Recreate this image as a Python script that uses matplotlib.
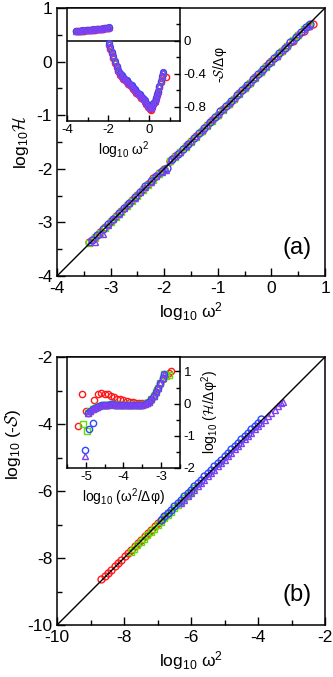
import matplotlib
matplotlib.use("Agg")
import matplotlib.pyplot as plt
from matplotlib.ticker import MultipleLocator, FixedLocator

plt.rcParams['font.family'] = ['Liberation Sans', 'DejaVu Sans']
plt.rcParams['mathtext.fontset'] = 'custom'
plt.rcParams['mathtext.rm'] = 'Liberation Sans'
plt.rcParams['mathtext.it'] = 'Liberation Sans:italic'
plt.rcParams['mathtext.cal'] = 'cmsy10'
plt.rcParams['axes.unicode_minus'] = False

# ---------------- data: panel (a) main ----------------
a_red_x = [-3.40,-3.30,-3.20,-3.10,-3.00,-2.90,-2.80,-2.70,-2.60,-2.50,-2.40,-2.30,-2.20,-2.10,-2.00,-1.90,-1.80,-1.70,-1.60,-1.50,-1.40,-1.30,-1.20,-1.10,-1.00,-0.90,-0.80,-0.70,-0.60,-0.50,-0.40,-0.30,-0.20,-0.10,0.00,0.10,0.20,0.30,0.40,0.50,0.60,0.70,0.77]
a_red_y = [-3.37,-3.28,-3.18,-3.08,-2.98,-2.88,-2.78,-2.68,-2.58,-2.48,-2.38,-2.28,-2.18,-2.08,-2.01,-1.86,-1.77,-1.68,-1.58,-1.48,-1.38,-1.29,-1.19,-1.09,-0.99,-0.89,-0.79,-0.69,-0.59,-0.49,-0.39,-0.29,-0.19,-0.09,0.01,0.10,0.20,0.29,0.39,0.49,0.58,0.67,0.71]
a_green_x = [-3.40,-3.30,-3.20,-3.10,-3.00,-2.90,-2.80,-2.70,-2.60,-2.50,-2.40,-2.30,-2.20,-2.10,-2.00,-1.90,-1.80,-1.70,-1.60,-1.50,-1.40,-1.30,-1.20,-1.10,-1.00,-0.90,-0.80,-0.70,-0.60,-0.50,-0.40,-0.30,-0.20,-0.10,0.00,0.10,0.20,0.30,0.40,0.50,0.60,0.70]
a_green_y = [-3.39,-3.29,-3.20,-3.10,-3.00,-2.90,-2.80,-2.70,-2.60,-2.50,-2.40,-2.30,-2.20,-2.10,-2.03,-1.85,-1.78,-1.69,-1.60,-1.50,-1.40,-1.30,-1.20,-1.10,-1.00,-0.90,-0.80,-0.70,-0.60,-0.50,-0.40,-0.30,-0.20,-0.10,0.00,0.10,0.20,0.30,0.40,0.50,0.60,0.69]
a_blue_x = [-3.35,-3.25,-3.15,-3.05,-2.95,-2.85,-2.75,-2.65,-2.55,-2.45,-2.35,-2.25,-2.15,-2.05,-1.95,-1.85,-1.75,-1.65,-1.55,-1.45,-1.35,-1.25,-1.15,-1.05,-0.95,-0.85,-0.75,-0.65,-0.55,-0.45,-0.35,-0.25,-0.15,-0.05,0.05,0.15,0.25,0.35,0.45,0.55,0.65,0.72]
a_blue_y = [-3.33,-3.23,-3.13,-3.03,-2.93,-2.83,-2.73,-2.63,-2.53,-2.43,-2.33,-2.23,-2.13,-2.04,-1.99,-1.82,-1.73,-1.63,-1.53,-1.43,-1.33,-1.23,-1.13,-1.03,-0.93,-0.83,-0.73,-0.63,-0.53,-0.43,-0.33,-0.23,-0.13,-0.03,0.06,0.16,0.26,0.36,0.46,0.56,0.65,0.70]
a_violet_x = [-3.38,-3.30,-3.22,-3.14,-3.05,-2.95,-2.85,-2.75,-2.65,-2.55,-2.45,-2.35,-2.25,-2.15,-2.05,-1.97,-1.90,-1.80,-1.70,-1.60,-1.50,-1.40,-1.30,-1.20,-1.10,-1.00,-0.90,-0.80,-0.70,-0.60,-0.50,-0.40,-0.30,-0.20,-0.10,0.00,0.10,0.20,0.30,0.40,0.50,0.60,0.70]
a_violet_y = [-3.37,-3.36,-3.22,-3.21,-3.04,-2.94,-2.84,-2.74,-2.64,-2.54,-2.44,-2.34,-2.24,-2.14,-2.06,-2.03,-1.84,-1.77,-1.68,-1.58,-1.48,-1.38,-1.28,-1.18,-1.08,-0.98,-0.88,-0.78,-0.68,-0.58,-0.48,-0.38,-0.28,-0.18,-0.08,0.01,0.11,0.21,0.31,0.41,0.51,0.60,0.67]

# ---------------- data: panel (a) inset ----------------
ia_x = [-3.55,-3.45,-3.35,-3.25,-3.15,-3.05,-2.95,-2.85,-2.75,-2.65,-2.55,-2.45,-2.35,-2.25,-2.15,-2.05,-1.95,
        -1.98,-1.90,-1.82,-1.74,-1.66,-1.58,-1.50,-1.42,-1.34,-1.26,-1.18,-1.10,-1.02,-0.94,-0.86,-0.78,-0.70,
        -0.62,-0.54,-0.46,-0.38,-0.30,-0.22,-0.14,-0.06,0.02,0.08,0.14,0.20,0.26,0.32,0.38,0.44,0.50,0.56,0.62,0.68]
ia_y = [0.120,0.122,0.125,0.127,0.130,0.132,0.135,0.137,0.140,0.142,0.145,0.148,0.150,0.153,0.156,0.160,0.163,
        -0.03,-0.08,-0.13,-0.19,-0.25,-0.30,-0.35,-0.39,-0.42,-0.44,-0.46,-0.48,-0.50,-0.52,-0.54,-0.56,-0.59,
        -0.61,-0.63,-0.65,-0.67,-0.69,-0.72,-0.75,-0.78,-0.81,-0.82,-0.79,-0.76,-0.73,-0.69,-0.65,-0.61,-0.55,-0.49,-0.43,-0.38]
ia_red_x = [-3.55,-3.45,-3.35,-3.25,-3.15,-3.05,-2.95,-2.85,-2.75,-2.65,-2.55,-2.45,-2.35,-2.25,-2.15,-2.05,-1.95,
            -1.98,-1.90,-1.82,-1.74,-1.66,-1.58,-1.50,-1.42,-1.34,-1.26,-1.18,-1.10,-1.02,-0.94,-0.86,-0.78,-0.70,
            -0.62,-0.54,-0.46,-0.38,-0.30,-0.22,-0.14,-0.06,0.02,0.08,0.14,0.20,0.26,0.32,0.38,0.44,0.50,0.56,0.62,0.68,0.81]
ia_red_y = [0.115,0.117,0.120,0.122,0.125,0.127,0.130,0.132,0.135,0.137,0.140,0.143,0.145,0.148,0.151,0.155,0.158,
            -0.05,-0.10,-0.15,-0.21,-0.27,-0.32,-0.37,-0.41,-0.44,-0.46,-0.48,-0.50,-0.52,-0.54,-0.56,-0.58,-0.61,
            -0.63,-0.65,-0.67,-0.69,-0.71,-0.74,-0.77,-0.80,-0.83,-0.84,-0.80,-0.77,-0.74,-0.70,-0.66,-0.62,-0.56,-0.50,-0.45,-0.40,-0.44]

# ---------------- data: panel (b) main ----------------
b_red_x = [-8.68,-8.58,-8.48,-8.38,-8.28,-8.18,-8.08,-7.98,-7.88,-7.78,-7.68,-7.58,-7.48,-7.38,-7.28,-7.18,-7.08,-6.98,-6.88,-6.78,-6.68]
b_red_y = [-8.64,-8.55,-8.45,-8.35,-8.25,-8.15,-8.05,-7.95,-7.85,-7.75,-7.65,-7.55,-7.45,-7.35,-7.25,-7.15,-7.05,-6.95,-6.85,-6.75,-6.65]
b_green_x = [-7.80,-7.70,-7.60,-7.50,-7.40,-7.30,-7.20,-7.10,-7.00,-6.90,-6.80,-6.70,-6.60,-6.50,-6.40,-6.30,-6.20,-6.10,-6.00,-5.90]
b_green_y = [-7.82,-7.72,-7.62,-7.52,-7.42,-7.32,-7.22,-7.12,-7.02,-6.92,-6.82,-6.72,-6.62,-6.52,-6.42,-6.32,-6.22,-6.12,-6.02,-5.92]
b_blue_x = [-6.90,-6.80,-6.70,-6.60,-6.50,-6.40,-6.30,-6.20,-6.10,-6.00,-5.90,-5.80,-5.70,-5.60,-5.50,-5.40,-5.30,-5.20,-5.10,-5.00,-4.90,-4.80,-4.70,-4.60,-4.50,-4.40,-4.30,-4.20,-4.10,-4.00,-3.90]
b_blue_y = [-6.86,-6.76,-6.66,-6.56,-6.46,-6.36,-6.26,-6.16,-6.06,-5.96,-5.86,-5.76,-5.66,-5.56,-5.46,-5.36,-5.26,-5.16,-5.06,-4.96,-4.86,-4.76,-4.66,-4.56,-4.46,-4.36,-4.26,-4.16,-4.06,-3.96,-3.86]
b_violet_x = [-6.30,-6.20,-6.10,-6.00,-5.90,-5.80,-5.70,-5.60,-5.50,-5.40,-5.30,-5.20,-5.10,-5.00,-4.90,-4.80,-4.70,-4.60,-4.50,-4.40,-4.30,-4.20,-4.10,-4.00,-3.90,-3.80,-3.70,-3.60,-3.50,-3.40,-3.30,-3.25]
b_violet_y = [-6.36,-6.26,-6.16,-6.06,-5.96,-5.86,-5.76,-5.66,-5.56,-5.46,-5.36,-5.26,-5.16,-5.06,-4.96,-4.86,-4.76,-4.66,-4.56,-4.46,-4.36,-4.26,-4.16,-4.06,-3.96,-3.87,-3.77,-3.67,-3.57,-3.47,-3.38,-3.34]

# ---------------- data: panel (b) inset ----------------
ib_red_x = [-5.20,-5.09,-5.00,-4.79,-4.68,-4.59,-4.50,-4.41,-4.32,-4.24,-4.16,-4.08,-4.00,-3.92,-3.84,-3.76,-3.68,-3.60,-3.52,-3.44,-3.36,-3.28,-3.20,-3.12,-3.04,-2.96,-2.88,-2.80,-2.74]
ib_red_y = [-0.71,0.29,-0.23,0.10,0.31,0.33,0.31,0.29,0.24,0.20,0.16,0.13,0.10,0.08,0.06,0.04,0.03,0.02,0.02,0.02,0.04,0.12,0.26,0.44,0.62,0.78,0.90,0.96,1.00]
ib_curve_x = [-4.94,-4.88,-4.82,-4.76,-4.70,-4.64,-4.58,-4.52,-4.46,-4.40,-4.34,-4.28,-4.22,-4.16,-4.10,-4.04,-3.98,-3.92,-3.86,-3.80,-3.74,-3.68,-3.62,-3.56,-3.50,-3.44,-3.38,-3.32,-3.26,-3.20,-3.14,-3.08,-3.02,-2.96,-2.92]
ib_curve_y = [-0.29,-0.23,-0.17,-0.12,-0.09,-0.07,-0.05,-0.04,-0.03,-0.03,-0.02,-0.02,-0.03,-0.03,-0.04,-0.04,-0.05,-0.05,-0.05,-0.05,-0.05,-0.05,-0.05,-0.04,-0.03,-0.01,0.02,0.06,0.14,0.24,0.36,0.50,0.64,0.80,0.92]
ib_green_x = [-5.07,-4.96] + ib_curve_x + [-2.86,-2.79]
ib_green_y = [-0.63,-0.85] + ib_curve_y + [0.86,0.90]
ib_blue_x = [-5.03,-4.92,-4.82] + ib_curve_x
ib_blue_y = [-1.43,-0.80,-0.59] + ib_curve_y
ib_violet_x = [-5.03] + ib_curve_x
ib_violet_y = [-1.62] + ib_curve_y

RED = '#ff1a1a'
GREEN = '#5fe000'
BLUE = '#2c48ff'
VIOLET = '#8040f0'

fig = plt.figure(figsize=(3.33, 6.77), dpi=100)

def style_main(ax):
    for s in ax.spines.values():
        s.set_linewidth(1.1)
    ax.tick_params(which='both', direction='in', top=False, right=False, labelsize=12.5, width=1.0)
    ax.tick_params(which='major', length=6)
    ax.tick_params(which='minor', length=3.5)

def style_inset(ax):
    for s in ax.spines.values():
        s.set_linewidth(1.1)
    ax.set_facecolor('white')
    ax.yaxis.tick_right()
    ax.yaxis.set_label_position('right')
    ax.tick_params(which='both', direction='in', top=False, left=False, right=True, labelsize=9.5, width=1.0, pad=2.5)
    ax.tick_params(which='major', length=4.5)
    ax.tick_params(which='minor', length=3)

def scatter_set(ax, series, mew):
    for x, y, mk, c, sz in series:
        ax.plot(x, y, linestyle='none', marker=mk, markersize=sz, markerfacecolor='none',
                markeredgecolor=c, markeredgewidth=mew)

# ---- panel (a) ----
axa = fig.add_axes([57/333, 1-276/677, 268/333, 268/677])
axa.axline((0, 0), slope=1, color='black', lw=1.0, zorder=3)
scatter_set(axa, [(a_red_x, a_red_y, 'o', RED, 5), (a_green_x, a_green_y, 's', GREEN, 4.0),
                  (a_blue_x, a_blue_y, 'o', BLUE, 5), (a_violet_x, a_violet_y, '^', VIOLET, 5)], 1.0)
axa.set_xlim(-4, 1)
axa.set_ylim(-4, 1)
axa.xaxis.set_major_locator(MultipleLocator(1))
axa.xaxis.set_minor_locator(MultipleLocator(0.5))
axa.yaxis.set_major_locator(MultipleLocator(1))
axa.yaxis.set_minor_locator(MultipleLocator(0.5))
style_main(axa)
axa.set_xlabel(r'log$_{10}$ ω$^2$', fontsize=12.5, labelpad=3)
axa.set_ylabel(r'log$_{10}$$\mathcal{H}$', fontsize=12.5, labelpad=4)
axa.text(0.895, 0.105, '(a)', transform=axa.transAxes, fontsize=17, ha='center', va='center')

ia = fig.add_axes([67/333, 1-121/677, 113/333, 113/677])
ia.axhline(0, color='black', lw=1.1, zorder=1)
scatter_set(ia, [(ia_red_x, ia_red_y, 'o', RED, 4.5), (ia_x, ia_y, 's', GREEN, 3.4),
                 (ia_x, ia_y, 'o', BLUE, 4.2), (ia_x, ia_y, '^', VIOLET, 4.6)], 1.0)
ia.set_xlim(-4, 1.5)
ia.set_ylim(-0.975, 0.4)
ia.xaxis.set_major_locator(MultipleLocator(2))
ia.xaxis.set_minor_locator(MultipleLocator(1))
ia.yaxis.set_major_locator(FixedLocator([-0.8, -0.4, 0.0]))
ia.yaxis.set_minor_locator(FixedLocator([-0.6, -0.2, 0.2]))
ia.yaxis.set_major_formatter(matplotlib.ticker.FixedFormatter(['-0.8', '-0.4', '0']))
style_inset(ia)
ia.set_xlabel(r'log$_{10}$ ω$^2$', fontsize=10, labelpad=2)
ia.set_ylabel(r'-$\mathcal{S}$/Δφ', fontsize=10, labelpad=3)

# ---- panel (b) ----
axb = fig.add_axes([57/333, 1-625/677, 268/333, 268/677])
axb.axline((-6, -6), slope=1, color='black', lw=1.0, zorder=3)
scatter_set(axb, [(b_red_x, b_red_y, 'o', RED, 5), (b_green_x, b_green_y, 's', GREEN, 4.0),
                  (b_blue_x, b_blue_y, 'o', BLUE, 5), (b_violet_x, b_violet_y, '^', VIOLET, 5)], 1.0)
axb.set_xlim(-10, -2)
axb.set_ylim(-10, -2)
axb.xaxis.set_major_locator(MultipleLocator(2))
axb.xaxis.set_minor_locator(MultipleLocator(1))
axb.yaxis.set_major_locator(MultipleLocator(2))
axb.yaxis.set_minor_locator(MultipleLocator(1))
style_main(axb)
axb.set_xlabel(r'log$_{10}$ ω$^2$', fontsize=12.5, labelpad=3)
axb.set_ylabel(r'log$_{10}$ (-$\mathcal{S}$)', fontsize=12.5, labelpad=3)
axb.yaxis.label.set_y(0.675)
axb.text(0.895, 0.112, '(b)', transform=axb.transAxes, fontsize=17, ha='center', va='center')

ib = fig.add_axes([67/333, 1-468/677, 113/333, 111/677])
scatter_set(ib, [(ib_red_x, ib_red_y, 'o', RED, 4.5), (ib_green_x, ib_green_y, 's', GREEN, 4),
                 (ib_blue_x, ib_blue_y, 'o', BLUE, 4.5), (ib_violet_x, ib_violet_y, '^', VIOLET, 4.2)], 1.0)
ib.set_xlim(-5.5, -2.5)
ib.set_ylim(-2, 1.45)
ib.xaxis.set_major_locator(MultipleLocator(1))
ib.xaxis.set_minor_locator(MultipleLocator(0.5))
ib.yaxis.set_major_locator(MultipleLocator(1))
ib.yaxis.set_minor_locator(MultipleLocator(0.5))
style_inset(ib)
ib.set_xlabel(r'log$_{10}$ (ω$^2$/Δφ)', fontsize=10, labelpad=2)
ib.set_ylabel(r'log$_{10}$ ($\mathcal{H}$/Δφ$^2$)', fontsize=10, labelpad=3)

fig.savefig('out.png', dpi=100)
